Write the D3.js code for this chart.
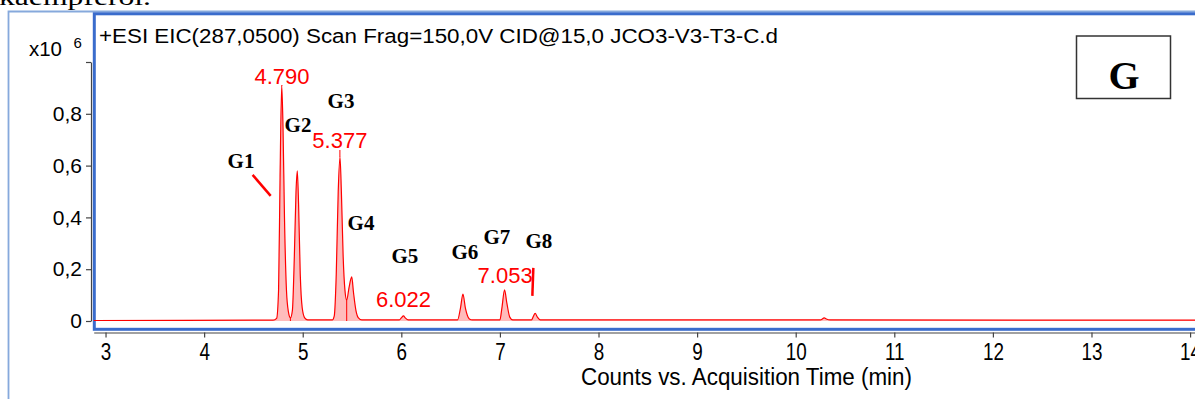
<!DOCTYPE html>
<html>
<head>
	<title>EIC 287 chromatogram G</title>
</head>
<body>

<svg class="chart"></svg>

<style type="text/css">
	body {
		margin: 0;
		background: #fff;
	}

	.chart {
		width: 1195px;
		height: 399px;
		display: block;
	}

	.chart .axis path,
	.chart .axis line {
		stroke: #444;
		stroke-width: 1.2px;
	}

	.chart .axis text {
		fill: #000;
		font-family: 'Liberation Sans', Arial, sans-serif;
	}
</style>

<script src="https://d3js.org/d3.v7.min.js"></script>
<script type="text/javascript">
	// retention time (min) and counts (x10^6)
	var rt = [
		2.88, 4.50, 4.70, 4.735, 4.755, 4.770, 4.787, 4.800, 4.815, 4.835, 4.855, 4.875,
		4.895, 4.915, 4.932, 4.945, 4.958, 4.975, 4.995, 5.02, 5.05,
		5.30, 5.320, 5.340, 5.360, 5.378, 5.392, 5.410, 5.428, 5.446,
		5.470, 5.497, 5.515, 5.540, 5.565, 5.60,
		5.98, 6.00, 6.022, 6.04, 6.07,
		6.57, 6.60, 6.625, 6.65, 6.69, 6.72,
		7.00, 7.02, 7.047, 7.07, 7.10, 7.13,
		7.32, 7.34, 7.357, 7.38, 7.41,
		10.25, 10.29, 10.31, 10.35, 14.06
	]
	var counts = [
		0.002, 0.003, 0.003, 0.010, 0.12, 0.55, 0.910, 0.75, 0.40, 0.12, 0.035, 0.012,
		0.04, 0.25, 0.50, 0.580, 0.45, 0.18, 0.05, 0.012, 0.004,
		0.004, 0.02, 0.18, 0.50, 0.633, 0.50, 0.25, 0.12, 0.08,
		0.13, 0.170, 0.11, 0.04, 0.012, 0.004,
		0.004, 0.012, 0.020, 0.012, 0.004,
		0.004, 0.05, 0.104, 0.05, 0.008, 0.004,
		0.004, 0.05, 0.120, 0.07, 0.015, 0.004,
		0.004, 0.018, 0.030, 0.015, 0.004,
		0.004, 0.012, 0.008, 0.004, 0.003
	]

	// integration splits between merged peaks
	var splitRt = [4.875, 5.446]
	var splitCount = [0.012, 0.08]

	// retention time labels (red) and where they sit
	var rtLabels = [4.790, 5.377, 6.022, 7.053]
	var rtLabelLevel = [0.915, 0.668, 0.054, 0.147]
	var rtLabelApex = [0.910, 0.633, null, null]

	// peak names and their label anchors (time, counts)
	var peakNames = ['G1', 'G2', 'G3', 'G4', 'G5', 'G6', 'G7', 'G8']
	var peakLabelRt = [4.374, 4.952, 5.388, 5.591, 6.037, 6.645, 6.970, 7.396]
	var peakLabelLevel = [0.591, 0.730, 0.822, 0.351, 0.224, 0.239, 0.297, 0.282]

	// hand drawn marker strokes: [t1, c1, t2, c2]
	var markers = [
		[4.492, 0.564, 4.675, 0.483],
		[7.339, 0.205, 7.329, 0.097]
	]

	var xTicks = d3.range(3, 15)
	var yTicks = [0, 0.2, 0.4, 0.6, 0.8, 1.0]

	var title = '+ESI EIC(287,0500) Scan Frag=150,0V CID@15,0 JCO3-V3-T3-C.d'
	var xTitle = 'Counts vs. Acquisition Time (min)'

	var svg = d3.select('.chart')
		.attr('viewBox', [0, 0, 1195, 399])

	var x = d3.scaleLinear().domain([2.88, 14.06]).range([93.7, 1196])
	var y = d3.scaleLinear().domain([0, 1]).range([321, 62])

	// caption from the page above, cut by the crop
	svg.append('text')
		.attr('x', -1).attr('y', 5)
		.attr('textLength', 152)
		.attr('lengthAdjust', 'spacingAndGlyphs')
		.style('font-family', "'Liberation Serif', serif")
		.style('font-size', '24px')
		.text('kaempferol.')

	// outer frame
	svg.append('path')
		.attr('d', 'M8.5,399 V11.5 H1195')
		.attr('fill', 'none')
		.attr('stroke', '#86a9dc')
		.attr('stroke-width', 1.8)

	// plot frame
	svg.append('rect')
		.attr('x', 94.3).attr('y', 13.8)
		.attr('width', 1120).attr('height', 315.5)
		.attr('fill', 'none')
		.attr('stroke', '#3a6ccc')
		.attr('stroke-width', 3)

	// y axis
	var yAxis = svg.append('g')
		.attr('class', 'axis')
		.attr('transform', 'translate(91,0)')
		.call(d3.axisLeft(y)
			.tickValues(yTicks)
			.tickSize(5)
			.tickSizeOuter(0)
			.tickPadding(4)
			.tickFormat(function(d) {
				if (d === 1) return ''
				if (d === 0) return '0'
				return d3.format('.1f')(d).replace('.', ',')
			}))
	yAxis.selectAll('text').style('font-size', '21px')

	svg.append('text')
		.attr('x', 29).attr('y', 56)
		.attr('textLength', 33)
		.attr('lengthAdjust', 'spacingAndGlyphs')
		.style('font-family', "'Liberation Sans', Arial, sans-serif")
		.style('font-size', '20px')
		.text('x10')
	svg.append('text')
		.attr('x', 73.5).attr('y', 48)
		.style('font-family', "'Liberation Sans', Arial, sans-serif")
		.style('font-size', '15px')
		.text('6')

	// x axis
	var xAxis = svg.append('g')
		.attr('class', 'axis')
		.attr('transform', 'translate(0,332.5)')
		.call(d3.axisBottom(x)
			.tickValues(xTicks)
			.tickSize(5)
			.tickSizeOuter(0)
			.tickPadding(6)
			.tickFormat(d3.format('d')))
	xAxis.selectAll('text')
		.style('font-size', '23px')
		.attr('transform', 'scale(0.82,1)')

	svg.append('text')
		.attr('x', 581).attr('y', 385)
		.attr('textLength', 331)
		.attr('lengthAdjust', 'spacingAndGlyphs')
		.style('font-family', "'Liberation Sans', Arial, sans-serif")
		.style('font-size', '23px')
		.text(xTitle)

	// trace
	var pts = rt.map(function(t, i) { return [t, counts[i]] })

	var plot = svg.append('g')

	plot.append('path')
		.datum(pts)
		.attr('fill', '#ffbcbc')
		.attr('d', d3.area()
			.curve(d3.curveMonotoneX)
			.x(function(d) { return x(d[0]) })
			.y0(y(0))
			.y1(function(d) { return y(d[1]) }))

	plot.selectAll('.split')
		.data(splitRt)
		.enter()
		.append('line')
		.attr('class', 'split')
		.attr('x1', function(d) { return x(d) })
		.attr('x2', function(d) { return x(d) })
		.attr('y1', y(0))
		.attr('y2', function(d, i) { return y(splitCount[i]) })
		.attr('stroke', '#f00')
		.attr('stroke-width', 1)

	plot.append('path')
		.datum(pts)
		.attr('fill', 'none')
		.attr('stroke', '#f00')
		.attr('stroke-width', 1.2)
		.attr('d', d3.line()
			.curve(d3.curveMonotoneX)
			.x(function(d) { return x(d[0]) })
			.y(function(d) { return y(d[1]) }))

	// retention time labels
	svg.selectAll('.rt-label')
		.data(rtLabels)
		.enter()
		.append('text')
		.attr('class', 'rt-label')
		.attr('x', function(d) { return x(d) })
		.attr('y', function(d, i) { return y(rtLabelLevel[i]) })
		.attr('text-anchor', 'middle')
		.attr('fill', '#f00')
		.style('font-family', "'Liberation Sans', Arial, sans-serif")
		.style('font-size', '22px')
		.text(function(d) { return d3.format('.3f')(d) })

	svg.selectAll('.rt-tick')
		.data(rtLabels.filter(function(d, i) { return rtLabelApex[i] !== null }))
		.enter()
		.append('line')
		.attr('class', 'rt-tick')
		.attr('x1', function(d) { return x(d) })
		.attr('x2', function(d) { return x(d) })
		.attr('y1', function(d, i) { return y(rtLabelLevel[i]) + 2 })
		.attr('y2', function(d, i) { return y(rtLabelApex[i]) })
		.attr('stroke', '#f00')
		.attr('stroke-width', 1)

	// peak names
	svg.selectAll('.peak-name')
		.data(peakNames)
		.enter()
		.append('text')
		.attr('class', 'peak-name')
		.attr('x', function(d, i) { return x(peakLabelRt[i]) })
		.attr('y', function(d, i) { return y(peakLabelLevel[i]) })
		.attr('text-anchor', 'middle')
		.style('font-family', "'Liberation Serif', 'Times New Roman', serif")
		.style('font-weight', 'bold')
		.style('font-size', '21px')
		.text(function(d) { return d })

	svg.selectAll('.marker')
		.data(markers)
		.enter()
		.append('line')
		.attr('class', 'marker')
		.attr('x1', function(d) { return x(d[0]) })
		.attr('y1', function(d) { return y(d[1]) })
		.attr('x2', function(d) { return x(d[2]) })
		.attr('y2', function(d) { return y(d[3]) })
		.attr('stroke', '#f00')
		.attr('stroke-width', 2.5)

	// panel title
	svg.append('text')
		.attr('x', 99).attr('y', 43)
		.attr('textLength', 679)
		.attr('lengthAdjust', 'spacingAndGlyphs')
		.style('font-family', "'Liberation Sans', Arial, sans-serif")
		.style('font-size', '20px')
		.text(title)

	// panel letter box
	svg.append('rect')
		.attr('x', 1076.5).attr('y', 36)
		.attr('width', 94).attr('height', 62.5)
		.attr('fill', '#fff')
		.attr('stroke', '#333')
		.attr('stroke-width', 1.5)

	svg.append('text')
		.attr('x', 1124).attr('y', 89)
		.attr('text-anchor', 'middle')
		.style('font-family', "'Liberation Serif', 'Times New Roman', serif")
		.style('font-weight', 'bold')
		.style('font-size', '40px')
		.text('G')
</script>
</body>
</html>
